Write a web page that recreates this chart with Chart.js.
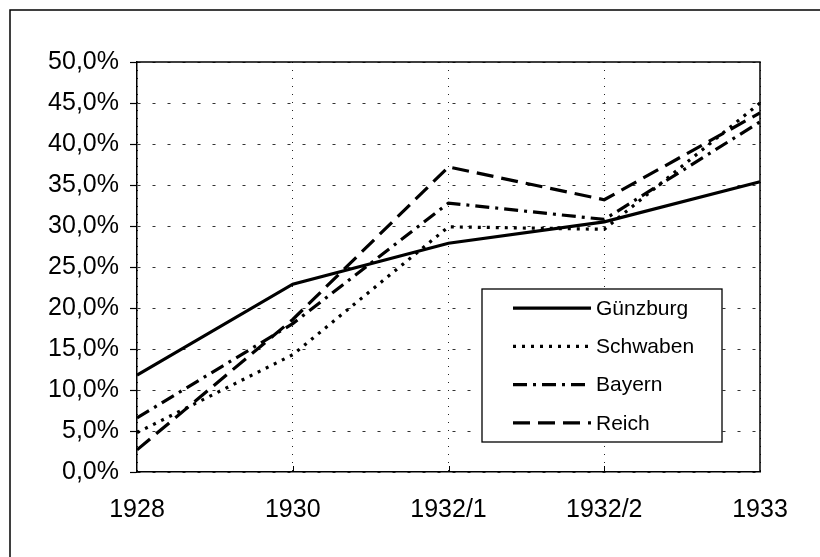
<!DOCTYPE html>
<html>
<head>
<meta charset="utf-8">
<script src="https://cdn.jsdelivr.net/npm/chart.js@4"></script>
<style>
html,body{margin:0;padding:0;background:#fff;}
canvas{display:block;}
</style>
</head>
<body>
<canvas id="c" width="820" height="557"></canvas>
<script>
const categories = ['1928', '1930', '1932/1', '1932/2', '1933'];
const guenzburg = [11.8, 22.9, 27.9, 30.5, 35.4];
const schwaben  = [4.8, 14.3, 29.9, 29.6, 45.0];
const bayern    = [6.6, 18.1, 32.8, 30.8, 42.7];
const reich     = [2.7, 18.6, 37.2, 33.2, 43.8];
const seriesNames = ['Günzburg', 'Schwaben', 'Bayern', 'Reich'];
const yTickLabels = ['0,0%', '5,0%', '10,0%', '15,0%', '20,0%', '25,0%', '30,0%', '35,0%', '40,0%', '45,0%', '50,0%'];

const FONT = "'Liberation Sans', Arial, sans-serif";

const framePlugin = {
  id: 'frames',
  beforeDraw(chart) {
    const ctx = chart.ctx;
    ctx.save();
    ctx.fillStyle = '#fff';
    ctx.fillRect(0, 0, chart.width, chart.height);
    ctx.strokeStyle = '#000';
    ctx.lineWidth = 1.5;
    ctx.strokeRect(10, 10, chart.width + 50, chart.height + 50);
    ctx.restore();
  },
  afterDatasetsDraw(chart) {
    const ctx = chart.ctx;
    const ca = chart.chartArea;
    const xs = chart.scales.x;
    ctx.save();
    ctx.strokeStyle = '#000';
    ctx.lineWidth = 1.5;
    ctx.setLineDash([]);
    ctx.beginPath();
    ctx.moveTo(ca.left, ca.top);
    ctx.lineTo(ca.right, ca.top);
    ctx.lineTo(ca.right, ca.bottom);
    ctx.stroke();
    // inner tick marks on x axis
    ctx.lineWidth = 1;
    for (let i = 1; i < categories.length - 1; i++) {
      const x = Math.round(xs.getPixelForTick(i)) + 0.5;
      ctx.beginPath();
      ctx.moveTo(x, ca.bottom);
      ctx.lineTo(x, ca.bottom - 6);
      ctx.stroke();
    }
    // legend box
    const L = ca.left + 345, R = ca.right - 38, T = ca.top + 227, B = ca.bottom - 30;
    ctx.fillStyle = '#fff';
    ctx.fillRect(L, T, R - L, B - T);
    ctx.lineWidth = 1.3;
    ctx.strokeRect(L, T, R - L, B - T);
    const rowH = (B - T) / chart.data.datasets.length;
    ctx.font = '21px ' + FONT;
    ctx.textBaseline = 'middle';
    ctx.textAlign = 'left';
    chart.data.datasets.forEach((ds, i) => {
      const y = T + rowH * (i + 0.5);
      ctx.strokeStyle = '#000';
      ctx.lineWidth = ds.borderWidth;
      ctx.setLineDash(ds.borderDash || []);
      ctx.beginPath();
      ctx.moveTo(L + 31, y);
      ctx.lineTo(L + 109, y);
      ctx.stroke();
      ctx.setLineDash([]);
      ctx.fillStyle = '#000';
      ctx.fillText(ds.label, L + 114, y + 1);
    });
    ctx.restore();
  }
};

const mk = (label, data, dash, w) => ({
  label, data,
  borderColor: '#000',
  backgroundColor: '#000',
  borderWidth: w,
  borderDash: dash,
  pointRadius: 0,
  tension: 0,
  fill: false
});

new Chart(document.getElementById('c'), {
  type: 'line',
  data: {
    labels: categories,
    datasets: [
      mk(seriesNames[0], guenzburg, [], 3.2),
      mk(seriesNames[1], schwaben, [3, 6], 3.2),
      mk(seriesNames[2], bayern, [14, 6, 3, 6], 3.2),
      mk(seriesNames[3], reich, [17, 8], 3.2)
    ]
  },
  options: {
    responsive: false,
    animation: false,
    devicePixelRatio: 1,
    layout: { padding: { left: 0, top: 62, right: 60, bottom: 0 } },
    plugins: { legend: { display: false }, tooltip: { enabled: false } },
    scales: {
      x: {
        type: 'category',
        offset: false,
        afterFit(s) { s.height = 85; },
        grid: { color: '#222', lineWidth: 1, drawTicks: false },
        border: { display: true, color: '#000', width: 1.5, dash: [1, 7] },
        ticks: { color: '#000', font: { family: FONT, size: 25 }, padding: 23, maxRotation: 0, autoSkip: false }
      },
      y: {
        min: 0, max: 50,
        afterFit(s) { s.width = 137; },
        grid: { color: '#333', lineWidth: 1, tickLength: 7, tickColor: '#000', tickWidth: 1.2 },
        border: { display: true, color: '#000', width: 1.5, dash: [3, 12] },
        ticks: {
          stepSize: 5, color: '#000', padding: 11,
          font: { family: FONT, size: 25 },
          callback: (v, i) => yTickLabels[i]
        }
      }
    }
  },
  plugins: [framePlugin]
});
</script>
</body>
</html>
